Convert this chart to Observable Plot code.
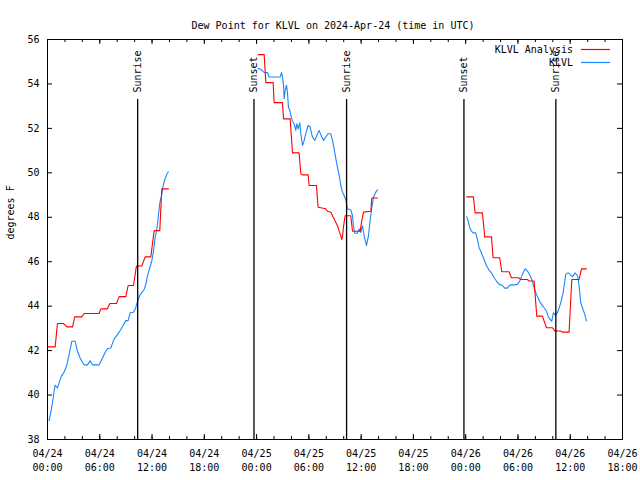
<!DOCTYPE html>
<html>
<head>
<meta charset="utf-8">
<script src="https://cdn.jsdelivr.net/npm/d3@7"></script>
<script src="https://cdn.jsdelivr.net/npm/@observablehq/plot@0.6"></script>
<style>
  html, body { margin: 0; padding: 0; background: #fff; }
</style>
</head>
<body>
<div id="chart"></div>
<script>
// ---- Data (hours after 2024-04-24 00:00 UTC, dew point in °F) ----
const titleText = "Dew Point for KLVL on 2024-Apr-24 (time in UTC)";
const yLabel = "degrees F";
const seriesNames = ["KLVL Analysis", "KLVL"];

// KLVL Analysis (red)
const anaHours1 = [0.07, 0.88, 1.14, 1.83, 2.22, 2.87, 3.13, 3.94, 4.21, 5.93, 6.12, 6.88, 7.15, 7.92, 8.22, 8.99, 9.26, 9.87, 10.21, 10.82, 11.21, 11.86, 12.24, 12.89, 13.12, 13.89];
const anaDew1   = [42.17, 42.17, 43.22, 43.22, 43.07, 43.07, 43.52, 43.52, 43.67, 43.67, 43.88, 43.88, 44.12, 44.12, 44.43, 44.43, 44.93, 44.93, 45.81, 45.81, 46.22, 46.22, 47.4, 47.4, 49.28, 49.28];
const anaHours2 = [24.18, 24.87, 25.06, 25.9, 26.01, 26.97, 27.09, 27.85, 28.12, 28.88, 29.08, 29.27, 29.92, 30.03, 30.87, 31.06, 31.94, 32.14, 32.52, 32.9, 33.28, 33.59, 33.78, 33.86, 33.97, 34.16, 34.81, 35.01, 35.89, 36.04, 36.27, 37.11, 37.23, 37.88];
const anaDew2   = [55.32, 55.32, 54.06, 54.06, 53.16, 53.16, 52.43, 52.43, 50.9, 50.9, 49.96, 49.91, 49.91, 49.43, 49.43, 48.45, 48.38, 48.27, 48.23, 47.92, 47.62, 47.25, 47.0, 47.13, 47.55, 48.07, 48.07, 47.37, 47.37, 47.77, 48.23, 48.27, 48.87, 48.87];
const anaHours3 = [48.12, 48.89, 49.08, 49.92, 50.19, 50.96, 51.15, 51.91, 52.14, 52.98, 53.25, 54.06, 54.32, 55.09, 55.28, 55.85, 56.16, 56.81, 57.27, 57.96, 58.23, 58.91, 59.11, 59.87, 60.18, 61.02, 61.29, 61.86];
const anaDew3   = [48.92, 48.92, 48.2, 48.2, 47.12, 47.12, 46.18, 46.18, 45.55, 45.55, 45.28, 45.28, 45.2, 45.2, 45.13, 45.13, 43.55, 43.55, 43.03, 43.03, 42.88, 42.88, 42.83, 42.83, 45.2, 45.2, 45.68, 45.68];

// KLVL observations (blue)
const obsHours1 = [0.18, 0.37, 0.57, 0.76, 0.88, 1.14, 1.33, 1.6, 1.91, 2.21, 2.48, 2.79, 3.17, 3.44, 3.74, 4.01, 4.2, 4.59, 4.89, 5.16, 5.93, 6.31, 6.69, 6.88, 7.26, 7.65, 8.03, 8.41, 8.72, 8.99, 9.25, 9.48, 9.87, 10.13, 10.4, 10.63, 11.09, 11.28, 11.47, 11.74, 11.97, 12.16, 12.35, 12.55, 12.7, 12.89, 13.08, 13.27, 13.46, 13.77, 13.88];
const obsDew1   = [38.85, 39.2, 39.65, 40.17, 40.44, 40.32, 40.55, 40.85, 41.04, 41.33, 41.82, 42.42, 42.42, 41.97, 41.67, 41.48, 41.36, 41.36, 41.54, 41.36, 41.36, 41.67, 41.97, 42.08, 42.12, 42.53, 42.72, 42.95, 43.16, 43.35, 43.35, 43.7, 43.73, 43.93, 44.3, 44.51, 44.75, 44.97, 45.35, 45.73, 46.02, 46.47, 47.07, 47.45, 47.97, 48.65, 48.95, 49.4, 49.7, 50.0, 50.03];
const obsHours2 = [24.18, 24.48, 24.79, 25.06, 25.25, 25.44, 26.7, 26.86, 26.97, 27.09, 27.16, 27.28, 27.43, 27.54, 27.66, 27.81, 27.93, 28.12, 28.31, 28.5, 28.62, 28.77, 28.96, 29.08, 29.27, 29.46, 29.65, 29.92, 30.15, 30.41, 30.68, 30.91, 31.18, 31.37, 31.68, 31.94, 32.21, 32.52, 32.71, 32.9, 33.09, 33.28, 33.48, 33.67, 33.86, 34.05, 34.24, 34.43, 34.81, 35.01, 35.12, 35.27, 35.58, 35.77, 35.96, 36.15, 36.34, 36.61, 36.84, 37.03, 37.23, 37.42, 37.68, 37.88];
const obsDew2   = [54.69, 54.66, 54.54, 54.51, 54.51, 54.31, 54.31, 54.51, 54.31, 53.97, 53.34, 53.71, 53.94, 53.64, 52.96, 52.81, 52.58, 52.31, 52.21, 51.91, 52.21, 51.98, 52.25, 51.76, 51.23, 51.46, 51.76, 52.13, 52.06, 51.61, 51.46, 51.68, 51.91, 51.71, 51.46, 51.61, 51.76, 51.76, 51.46, 51.08, 50.65, 50.26, 49.88, 49.43, 49.13, 48.98, 48.78, 48.38, 48.33, 48.07, 47.62, 47.28, 47.28, 47.47, 47.32, 47.62, 47.17, 46.72, 47.17, 47.85, 48.45, 48.9, 49.13, 49.23];
const obsHours3 = [48.12, 48.28, 48.47, 48.66, 48.85, 49.16, 49.35, 49.54, 49.81, 50.11, 50.38, 50.69, 50.96, 51.26, 51.53, 51.84, 52.22, 52.49, 52.79, 53.1, 53.56, 53.94, 54.21, 54.51, 54.82, 55.09, 55.36, 55.59, 55.85, 56.12, 56.43, 56.7, 57.0, 57.27, 57.46, 57.69, 57.88, 58.07, 58.34, 58.61, 58.91, 59.18, 59.49, 59.75, 59.98, 60.25, 60.56, 60.83, 61.02, 61.21, 61.4, 61.67, 61.86];
const obsDew3   = [48.02, 47.83, 47.53, 47.38, 47.3, 47.3, 47.0, 46.63, 46.4, 46.1, 45.83, 45.62, 45.5, 45.28, 45.13, 44.98, 44.93, 44.81, 44.81, 44.96, 44.96, 44.98, 45.13, 45.43, 45.68, 45.58, 45.4, 45.2, 44.83, 44.53, 44.27, 44.08, 43.93, 43.78, 43.55, 43.4, 43.33, 43.7, 43.58, 43.78, 44.15, 44.6, 45.43, 45.5, 45.43, 45.32, 45.5, 45.38, 44.9, 44.15, 43.93, 43.63, 43.33];

// Sunrise / sunset markers
const sunHours  = [10.35, 23.7, 34.33, 47.8, 58.35];
const sunLabels = ["Sunrise", "Sunset", "Sunrise", "Sunset", "Sunrise"];

// Axis ticks
const yTicks = [38, 40, 42, 44, 46, 48, 50, 52, 54, 56];
const xMajorHours = [0, 6, 12, 18, 24, 30, 36, 42, 48, 54, 60, 66];
const xMinorHours = d3.range(0, 67, 2);
const xDomainHours = [0, 66];
const yDomain = [38, 56];

// ---- Build ----
const t0 = Date.UTC(2024, 3, 24, 0, 0);
const toDate = h => new Date(t0 + h * 3600000);
const mkRows = (segs) => segs.flatMap((s, i) => s[0].map((h, j) => ({t: toDate(h), v: s[1][j], seg: i})));
const anaRows = mkRows([[anaHours1, anaDew1], [anaHours2, anaDew2], [anaHours3, anaDew3]]);
const obsRows = mkRows([[obsHours1, obsDew1], [obsHours2, obsDew2], [obsHours3, obsDew3]]);
const sunRows = sunHours.map((h, i) => ({t: toDate(h), label: sunLabels[i]}));

const W = 640, H = 480;
const mL = 47, mR = 18, mT = 39, mB = 41;
const plotH = H - mT - mB, plotW = W - mL - mR;
const font = "'DejaVu Sans Mono', 'Liberation Mono', monospace";
const red = "#ff0000", blue = "#1a85ff";

const chart = Plot.plot({
  width: W, height: H,
  marginLeft: mL, marginRight: mR, marginTop: mT, marginBottom: mB,
  style: {fontFamily: font, fontSize: "10px", background: "white", color: "black"},
  x: {type: "utc", domain: xDomainHours.map(toDate)},
  y: {domain: yDomain},
  marks: [
    // data lines
    Plot.line(obsRows, {x: "t", y: "v", z: "seg", stroke: blue, strokeWidth: 1.1}),
    Plot.line(anaRows, {x: "t", y: "v", z: "seg", stroke: red, strokeWidth: 1.1}),
    // sunrise/sunset
    Plot.ruleX(sunRows, {x: "t", insetTop: 60, stroke: "black", strokeWidth: 1.3}),
    Plot.text(sunRows, {x: "t", text: "label", frameAnchor: "top", dy: 53, rotate: -90, textAnchor: "start", lineAnchor: "middle", fontSize: 10, fill: "black"}),
    // frame
    Plot.frame({stroke: "black"}),
    // inward ticks
    Plot.tickX(xMinorHours.map(toDate), {x: d => d, insetTop: plotH - 3, stroke: "black"}),
    Plot.tickX(xMinorHours.map(toDate), {x: d => d, insetBottom: plotH - 3, stroke: "black"}),
    Plot.tickX(xMajorHours.map(toDate), {x: d => d, insetTop: plotH - 5, stroke: "black"}),
    Plot.tickX(xMajorHours.map(toDate), {x: d => d, insetBottom: plotH - 5, stroke: "black"}),
    Plot.tickY(yTicks, {y: d => d, insetRight: plotW - 5, stroke: "black"}),
    Plot.tickY(yTicks, {y: d => d, insetLeft: plotW - 5, stroke: "black"}),
    // axis labels
    Plot.axisX({ticks: xMajorHours.map(toDate), tickSize: 0, tickPadding: 8, tickFormat: d3.utcFormat("%m/%d\n%H:%M"), lineHeight: 1.35, fontSize: 10, label: null}),
    Plot.axisY({ticks: yTicks, tickSize: 0, tickPadding: 8, tickFormat: d => String(d), fontSize: 10, label: null}),
    Plot.text([yLabel], {frameAnchor: "left", dx: -37, rotate: -90, fontSize: 10, fill: "black"}),
    Plot.text([titleText], {frameAnchor: "top", dy: -18, dx: -2, fontSize: 10, fill: "black"})
  ]
});

// legend (inside the plot area, top right)
const svg = d3.select(chart);
const leg = svg.append("g").attr("font-family", font).attr("font-size", 10);
const legItems = [{name: seriesNames[0], color: red, y: 49.5}, {name: seriesNames[1], color: blue, y: 62.5}];
legItems.forEach(it => {
  leg.append("text").attr("x", 573).attr("y", it.y).attr("dy", "0.35em")
     .attr("text-anchor", "end").attr("fill", "black").text(it.name);
  leg.append("line").attr("x1", 581).attr("x2", 610).attr("y1", it.y).attr("y2", it.y)
     .attr("stroke", it.color).attr("stroke-width", 1.2);
});

document.getElementById("chart").appendChild(chart);
</script>
</body>
</html>
